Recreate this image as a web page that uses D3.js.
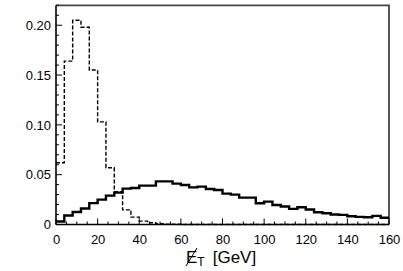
<!DOCTYPE html>
<html><head><meta charset="utf-8">
<script src="https://cdn.jsdelivr.net/npm/d3@7"></script>
<style>body{margin:0;background:#fff;}svg{display:block;}</style>
</head><body>
<svg id="c" width="403" height="271"></svg>
<script>
const binEdges = d3.range(0, 161, 4);
const dashedValues = [0.062,0.164,0.205,0.198,0.155,0.103,0.057,0.033,0.0147,0.0074,0.0034,0.0017,0.0008,0.0004,0.0002,0,0,0,0,0,0,0,0,0,0,0,0,0,0,0,0,0,0,0,0,0,0,0,0,0];
const solidValues = [0.003,0.009,0.0125,0.016,0.0215,0.025,0.029,0.032,0.036,0.0367,0.039,0.039,0.0433,0.0433,0.041,0.0397,0.0373,0.038,0.0357,0.0347,0.031,0.030,0.027,0.027,0.0213,0.023,0.0195,0.018,0.0157,0.0173,0.015,0.0123,0.0113,0.010,0.0097,0.0083,0.0077,0.0073,0.0087,0.0067];
const xTicks = [0,20,40,60,80,100,120,140,160];
const yTicks = [0,0.05,0.10,0.15,0.20];
const yTickLabels = ["0","0.05","0.10","0.15","0.20"];

const L=56, R=389, T=5.3, B=224.5;
const svg = d3.select("#c");
const x = d3.scaleLinear().domain([0,160]).range([L,R]);
const y = d3.scaleLinear().domain([0,0.22]).range([B,T]);

function histPts(vals){
  const pts = vals.map((v,i)=>[binEdges[i], v]);
  pts.push([binEdges[vals.length], vals[vals.length-1]]);
  return pts;
}
const line = d3.line().x(d=>x(d[0])).y(d=>y(d[1])).curve(d3.curveStepAfter);

// frame top/right
svg.append("path").attr("d",`M${L},${T}H${R}V${B}`).attr("fill","none").attr("stroke","#444").attr("stroke-width",1.8);

svg.append("path").attr("d", line(histPts(dashedValues)))
  .attr("fill","none").attr("stroke","#000").attr("stroke-width",1.4).attr("stroke-dasharray","4,2");
svg.append("path").attr("d", line(histPts(solidValues)))
  .attr("fill","none").attr("stroke","#000").attr("stroke-width",2.4);

// axes
const font = "Liberation Sans, Arial, Helvetica, sans-serif";
const xAxis = d3.axisBottom(x).tickValues(xTicks).tickSize(0).tickPadding(10).tickFormat(d3.format("d"));
const gx = svg.append("g").attr("transform",`translate(0,${B})`).call(xAxis);
gx.select(".domain").remove();
gx.selectAll("text").attr("font-family",font).attr("font-size",13).attr("fill","#000");
const yAxis = d3.axisLeft(y).tickValues(yTicks).tickSize(0).tickPadding(5).tickFormat((d,i)=>yTickLabels[i]);
const gy = svg.append("g").attr("transform",`translate(${L},0)`).call(yAxis);
gy.select(".domain").remove();
gy.selectAll("text").attr("font-family",font).attr("font-size",13).attr("fill","#000");

// minor & major ticks (inward)
const xMinor = d3.range(0,161,5);
svg.append("g").selectAll("line").data(xMinor).join("line")
  .attr("x1",d=>x(d)).attr("x2",d=>x(d)).attr("y1",B).attr("y2",d=>B-(d%20===0?6:3))
  .attr("stroke","#000").attr("stroke-width",1);
const yMinor = d3.range(0,0.2201,0.01);
svg.append("g").selectAll("line").data(yMinor).join("line")
  .attr("y1",d=>y(d)).attr("y2",d=>y(d)).attr("x1",L).attr("x2",(d)=>L+(Math.round(d*100)%5===0?6:3))
  .attr("stroke","#000").attr("stroke-width",1);

svg.append("line").attr("x1",L).attr("x2",R).attr("y1",B).attr("y2",B).attr("stroke","#000").attr("stroke-width",1.6);
svg.append("line").attr("x1",L).attr("x2",L).attr("y1",T).attr("y2",B).attr("stroke","#000").attr("stroke-width",1.6);

// x label
const lab = svg.append("text").attr("x",186).attr("y",263).attr("font-family",font).attr("font-size",17).attr("fill","#000");
lab.append("tspan").text("E");
lab.append("tspan").attr("font-size",12).attr("dy",3).text("T");
lab.append("tspan").attr("dy",-3).attr("dx",8).text("[GeV]");
// slash over E
svg.append("line").attr("x1",186).attr("y1",266).attr("x2",197).attr("y2",248).attr("stroke","#000").attr("stroke-width",1);
</script>
</body></html>
